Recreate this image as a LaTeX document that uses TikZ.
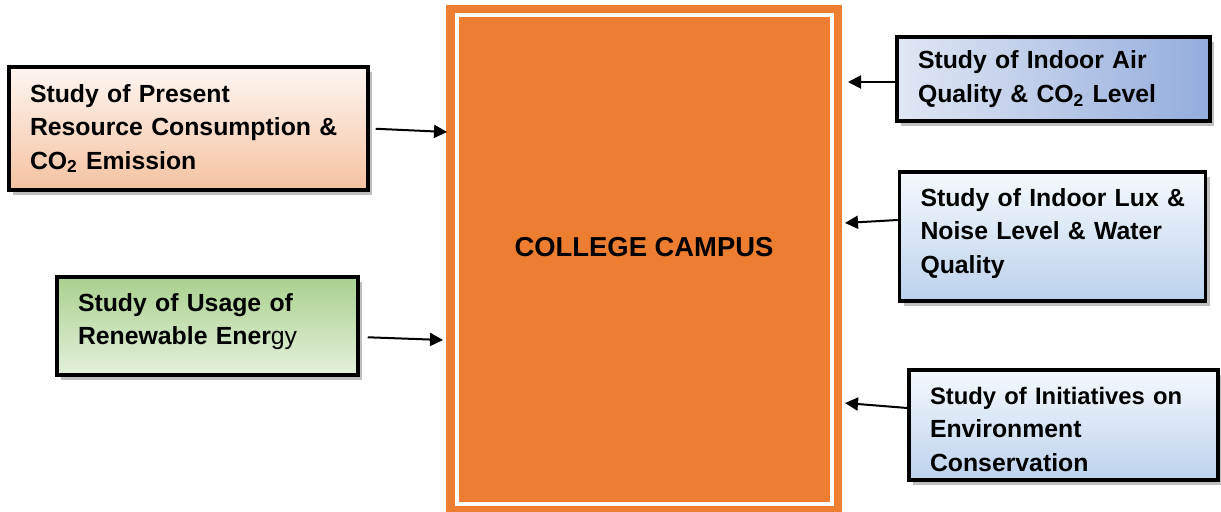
\documentclass[tikz,border=0pt]{standalone}
\usepackage{fontspec}
\setmainfont{Liberation Sans}
\usetikzlibrary{arrows.meta,shadows}
\definecolor{campusorange}{HTML}{ED7D31}
\definecolor{peachtop}{HTML}{FEF6F1}
\definecolor{peachbot}{HTML}{F4C2A1}
\definecolor{greentop}{HTML}{A9D18E}
\definecolor{greenbot}{HTML}{E4F0DC}
\definecolor{airleft}{HTML}{E0E7F4}
\definecolor{airright}{HTML}{93ADDC}
\definecolor{bluetop}{HTML}{F6F9FD}
\definecolor{bluebot}{HTML}{BBD2ED}

\begin{document}
\begin{tikzpicture}[x=0.5pt,y=-0.5pt,
  studybox/.style={draw=black,line width=1.75pt,align=left,inner xsep=10.5pt,inner ysep=0pt,
    font=\bfseries\fontsize{12.4}{16.75}\selectfont,
    drop shadow={shadow xshift=2pt,shadow yshift=-2.5pt,fill=black!25,opacity=1}},
  feed/.style={-{Triangle[length=6.5pt,width=6.5pt]},line width=1pt}]

\useasboundingbox (0,0) rectangle (1221,512);

\node[fill=campusorange,minimum width=198pt,minimum height=254.5pt,inner sep=0pt,anchor=north west] (campus) at (446,5) {};
\draw[white,line width=2pt] ([shift={(10.5,10.5)}]campus.north west) rectangle ([shift={(-10.5,-10.5)}]campus.south east);
\node[font=\bfseries\fontsize{13.7}{16}\selectfont] (title) at (644,247) {COLLEGE CAMPUS};

\node[studybox,top color=peachtop,bottom color=peachbot,text width=158.5pt,minimum height=61.5pt] (present) at (188.5,128.5) {Study of Present\\Resource Consumption \&\\CO\textsubscript{2} Emission};
\node[studybox,top color=greentop,bottom color=greenbot,text width=129.5pt,minimum height=49pt,text depth=23.75pt] (renew) at (207.5,326) {Study of Usage of\\Renewable Ener{\mdseries gy}};
\node[studybox,left color=airleft,right color=airright,text width=135.5pt,minimum height=42pt] (air) at (1053.5,79) {Study of Indoor Air\\Quality \& CO\textsubscript{2} Level};
\node[studybox,top color=bluetop,bottom color=bluebot,text width=132pt,minimum height=64.5pt,text depth=39.1pt] (lux) at (1052.5,236.5) {\mbox{Study of Indoor Lux \&}\\Noise Level \& Water\\Quality};
\node[studybox,top color=bluetop,bottom color=bluebot,text width=133.5pt,minimum height=55pt,text height=13pt] (init) at (1063.5,425) {{\fontsize{11.9}{16.75}\selectfont Study of Initiatives on}\\Environment\\Conservation};

\coordinate (presentend) at (447,132);
\coordinate (renewend) at (443,340);
\coordinate (airend) at (848,82);
\coordinate (luxend) at (845,223);
\coordinate (initend) at (845,403);

\draw[feed,shorten <=3pt] (present.east) -- (presentend);
\draw[feed,shorten <=4pt] ([yshift=-5.5pt]renew.east) -- (renewend);
\draw[feed] ([yshift=-1.5pt]air.west) -- (airend);
\draw[feed] ([yshift=8.25pt]lux.west) -- (luxend);
\draw[feed] ([yshift=8.5pt]init.west) -- (initend);

\end{tikzpicture}
\end{document}
